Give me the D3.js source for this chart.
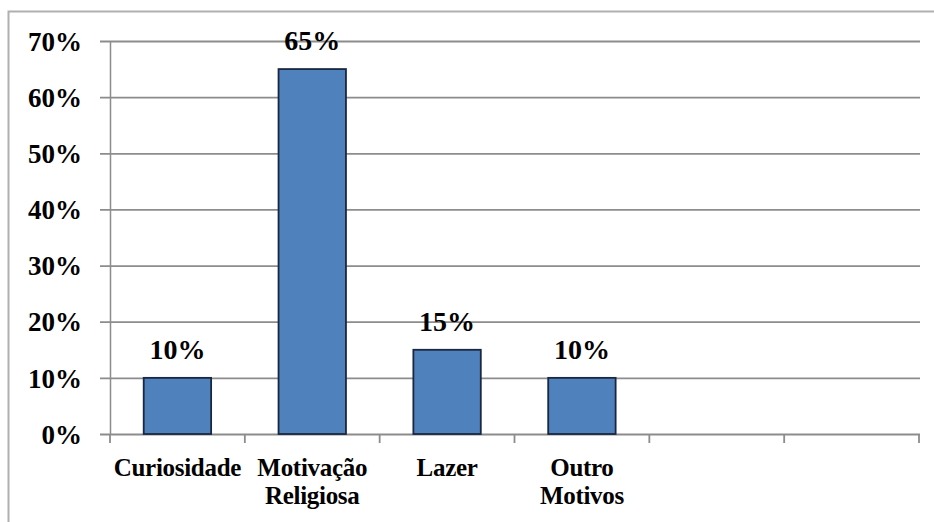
<!DOCTYPE html>
<html>
<head>
<meta charset="utf-8">
<script src="https://cdn.jsdelivr.net/npm/d3@7"></script>
<style>
  html, body { margin: 0; padding: 0; background: #fff; }
  svg { display: block; }
  svg text { font-family: "Liberation Serif", "DejaVu Serif", "Times New Roman", serif; font-weight: bold; fill: #000; }
</style>
</head>
<body>
<svg id="chart" width="934" height="522"></svg>
<script>
const categories = ["Curiosidade", "Motivação\nReligiosa", "Lazer", "Outro\nMotivos", "", ""];
const values = [0.10, 0.65, 0.15, 0.10, null, null];
const yTicks = [0, 0.1, 0.2, 0.3, 0.4, 0.5, 0.6, 0.7];

const svg = d3.select("#chart");
const W = 934, H = 522;
const plot = { left: 110, right: 919, top: 41, bottom: 434 };

// outer frame
svg.append("path")
  .attr("d", `M8.5,${H + 2} L8.5,11.5 L${W + 2},11.5`)
  .attr("fill", "none").attr("stroke", "#b0b0b0").attr("stroke-width", 2);

const x = d3.scaleBand()
  .domain(categories.map((c, i) => i))
  .range([plot.left, plot.right])
  .paddingInner(0.5).paddingOuter(0.25);

const y = d3.scaleLinear().domain([0, 0.7]).range([plot.bottom, plot.top]);

// gridlines + y axis
const yAxis = d3.axisLeft(y).tickValues(yTicks)
  .tickFormat(d3.format(".0%"))
  .tickSize(-(920 - plot.left)).tickSizeOuter(0).tickPadding(28);
const gy = svg.append("g").attr("transform", `translate(${plot.left},0)`).call(yAxis);
gy.attr("font-family", null).attr("font-size", null);
gy.select(".domain").attr("stroke", "#8c8c8c").attr("stroke-width", 1.5);
gy.selectAll(".tick line").attr("x1", -10).attr("stroke", "#8c8c8c").attr("stroke-width", 1.8);
gy.selectAll(".tick text")
  .style("font-size", "27px").attr("fill", "#000").attr("dy", "0.34em");

// x axis boundary ticks
const step = (plot.right - plot.left) / categories.length;
svg.append("g").selectAll("line")
  .data(d3.range(categories.length + 1))
  .join("line")
  .attr("x1", i => plot.left + i * step).attr("x2", i => plot.left + i * step)
  .attr("y1", plot.bottom).attr("y2", plot.bottom + 9)
  .attr("stroke", "#8c8c8c").attr("stroke-width", 1.8);

// bars
const data = categories.map((c, i) => ({ i, c, v: values[i] })).filter(d => d.v != null);
svg.append("g").selectAll("rect")
  .data(data).join("rect")
  .attr("x", d => x(d.i)).attr("width", x.bandwidth())
  .attr("y", d => y(d.v)).attr("height", d => plot.bottom - y(d.v))
  .attr("fill", "#4f81bd").attr("stroke", "#1a2740").attr("stroke-width", 1.8);

// value labels
svg.append("g").selectAll("text")
  .data(data).join("text")
  .attr("x", d => x(d.i) + x.bandwidth() / 2)
  .attr("y", d => y(d.v) - 19)
  .attr("text-anchor", "middle")
  .style("font-size", "28px")
  .text(d => d3.format(".0%")(d.v));

// category labels
const cl = svg.append("g").selectAll("text")
  .data(categories.map((c, i) => ({ c, i })).filter(d => d.c))
  .join("text")
  .attr("x", d => x(d.i) + x.bandwidth() / 2)
  .attr("y", 476)
  .attr("text-anchor", "middle")
  .style("font-size", "25px")
  .attr("letter-spacing", -0.3);
cl.selectAll("tspan")
  .data(d => d.c.split("\n").map((t, k) => ({ t, k, x: x(d.i) + x.bandwidth() / 2 })))
  .join("tspan")
  .attr("x", d => d.x)
  .attr("dy", d => d.k === 0 ? 0 : 28)
  .text(d => d.t);
</script>
</body>
</html>
